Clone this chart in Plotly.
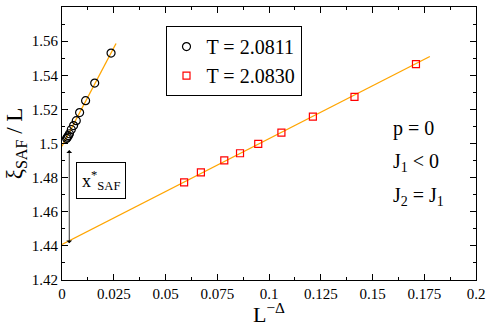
import plotly.graph_objects as go

# Data
x_black = [0.0022, 0.0026, 0.0031, 0.0036, 0.0045, 0.0056, 0.0069, 0.0085, 0.0114, 0.0158, 0.0237]
y_black = [1.5030, 1.5037, 1.5046, 1.5057, 1.5082, 1.5105, 1.5134, 1.5181, 1.5251, 1.5354, 1.5530]
x_red = [0.0590, 0.0671, 0.0784, 0.0860, 0.0948, 0.1060, 0.1212, 0.1413, 0.1710]
y_red = [1.4772, 1.4831, 1.4901, 1.4943, 1.4998, 1.5064, 1.5158, 1.5273, 1.5465]
fit_x_black = [0.0, 0.0261]
fit_y_black = [1.4984, 1.5586]
fit_x_red = [0.0, 0.1777]
fit_y_red = [1.4408, 1.5510]
arrow_x = 0.0035
arrow_y = [1.4415, 1.4970]
x_ticks = [0, 0.025, 0.05, 0.075, 0.1, 0.125, 0.15, 0.175, 0.2]
x_tick_labels = ["0", "0.025", "0.05", "0.075", "0.1", "0.125", "0.15", "0.175", "0.2"]
y_ticks = [1.42, 1.44, 1.46, 1.48, 1.50, 1.52, 1.54, 1.56, 1.58]
y_tick_labels = ["1.42", "1.44", "1.46", "1.48", "1.5", "1.52", "1.54", "1.56", "1.58"]

FONT = "Liberation Serif"
ORANGE = "#FFA500"

fig = go.Figure()
fig.add_trace(go.Scatter(x=fit_x_black, y=fit_y_black, mode="lines",
                         line=dict(color=ORANGE, width=1.3), showlegend=False))
fig.add_trace(go.Scatter(x=fit_x_red, y=fit_y_red, mode="lines",
                         line=dict(color=ORANGE, width=1.3), showlegend=False))
fig.add_trace(go.Scatter(x=x_black, y=y_black, mode="markers", name="T = 2.0811",
                         marker=dict(symbol="circle-open", size=8, color="black",
                                     line=dict(width=1.2))))
fig.add_trace(go.Scatter(x=x_red, y=y_red, mode="markers", name="T = 2.0830",
                         marker=dict(symbol="square-open", size=7, color="red",
                                     line=dict(width=1.2))))

fig.add_annotation(x=arrow_x, y=arrow_y[0], ax=arrow_x, ay=arrow_y[1],
                   xref="x", yref="y", axref="x", ayref="y", text="",
                   showarrow=True, arrowhead=1, startarrowhead=1, arrowside="end+start",
                   arrowsize=1.2, startarrowsize=1.2, arrowwidth=0.8, arrowcolor="black")
fig.add_annotation(x=0.0067, y=1.4785, xref="x", yref="y", xanchor="left", yanchor="middle",
                   text="x<sup>*</sup><sub>SAF</sub>", showarrow=False,
                   font=dict(family=FONT, size=18, color="black"),
                   bordercolor="black", borderwidth=1, borderpad=5, bgcolor="white")

for txt, yy in [("p = 0", 1.5088), ("J<sub>1</sub> &lt; 0", 1.4891), ("J<sub>2</sub> = J<sub>1</sub>", 1.4690)]:
    fig.add_annotation(x=0.1590, y=yy, xref="x", yref="y", xanchor="left", yanchor="middle",
                       text=txt, showarrow=False, font=dict(family=FONT, size=20, color="black"))

axis_common = dict(showline=True, linecolor="black", linewidth=1, mirror="allticks",
                   ticks="inside", ticklen=6, tickcolor="black", showgrid=False, zeroline=False,
                   tickfont=dict(family=FONT, size=15, color="black"))
fig.update_xaxes(range=[0, 0.2], tickmode="array", tickvals=x_ticks, ticktext=x_tick_labels,
                 minor=dict(dtick=0.0125, tick0=0, ticks="inside", ticklen=3, tickcolor="black"),
                 title=dict(text="L<sup>−Δ</sup>", font=dict(family=FONT, size=22, color="black"),
                            standoff=2),
                 **axis_common)
fig.update_yaxes(range=[1.42, 1.58], tickmode="array", tickvals=y_ticks, ticktext=y_tick_labels,
                 minor=dict(dtick=0.01, tick0=1.42, ticks="inside", ticklen=3, tickcolor="black"),
                 title=dict(text="ξ<sub>SAF</sub> / L", font=dict(family=FONT, size=23, color="black"),
                            standoff=2),
                 **axis_common)

fig.update_layout(width=491, height=327, plot_bgcolor="white", paper_bgcolor="white",
                  margin=dict(l=62, r=12, t=6, b=47),
                  font=dict(family=FONT, color="black"),
                  legend=dict(x=0.25, y=0.93, xanchor="left", yanchor="top",
                              bordercolor="black", borderwidth=1, bgcolor="white",
                              font=dict(family=FONT, size=20, color="black"),
                              tracegroupgap=0, itemwidth=30))

fig.write_html("out.html", config={"displayModeBar": False},
               post_script="document.body.style.margin='0';document.body.style.overflow='hidden';")
